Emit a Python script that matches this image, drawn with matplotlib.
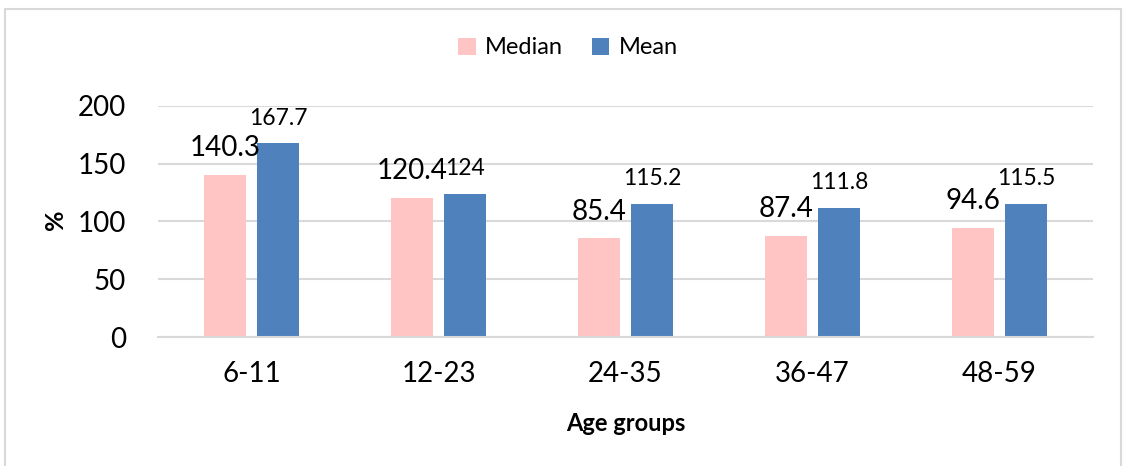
import matplotlib
matplotlib.use("Agg")
import matplotlib.pyplot as plt
from matplotlib.patches import Rectangle
import numpy as np

plt.rcParams['font.family'] = ['Lato', 'DejaVu Sans']

age_groups = ["6-11", "12-23", "24-35", "36-47", "48-59"]
median_vals = [140.3, 120.4, 85.4, 87.4, 94.6]
mean_vals = [167.7, 124, 115.2, 111.8, 115.5]
y_ticks = [0, 50, 100, 150, 200]

median_color = "#FFC5C5"
mean_color = "#4F81BD"
grid_color = "#D9D9D9"

W, H = 1124, 466
fig = plt.figure(figsize=(W / 100, H / 100), dpi=100)

# outer chart border (open at the bottom edge)
fig.patches.append(Rectangle((5 / W, -0.05), 1116 / W, (H - 9) / H + 0.05,
                             transform=fig.transFigure, fill=False,
                             edgecolor="#D9D9D9", linewidth=1.5))

ax = fig.add_axes([158 / W, (H - 337) / H, (1093 - 158) / W, (337 - 106) / H])

x = np.arange(len(age_groups))
bw = 0.225
off = 0.142
b1 = ax.bar(x - off, median_vals, bw, color=median_color, label="Median", zorder=2)
b2 = ax.bar(x + off, mean_vals, bw, color=mean_color, label="Mean", zorder=2)

for rect, v in zip(b1, median_vals):
    ax.annotate(f"{v:g}", (rect.get_x() + rect.get_width() / 2, v),
                xytext=(0, 13.5), textcoords="offset points",
                ha="center", va="baseline", fontsize=20, color="black")
for rect, v in zip(b2, mean_vals):
    ax.annotate(f"{v:g}", (rect.get_x() + rect.get_width() / 2, v),
                xytext=(0, 13.5), textcoords="offset points",
                ha="center", va="baseline", fontsize=16.5, color="black")

ax.set_xlim(-0.5, len(age_groups) - 0.5)
ax.set_ylim(0, 200)
ax.set_yticks(y_ticks)
ax.set_yticklabels([str(t) for t in y_ticks], fontsize=20)
ax.set_xticks(x)
ax.set_xticklabels(age_groups, fontsize=20)
ax.tick_params(axis="both", length=0)
ax.tick_params(axis="y", pad=23)
ax.tick_params(axis="x", pad=17)

ax.grid(axis="y", color=grid_color, linewidth=1.5, zorder=0)
ax.set_axisbelow(True)
for s in ["top", "right", "left"]:
    ax.spines[s].set_visible(False)
ax.spines["bottom"].set_color(grid_color)
ax.spines["bottom"].set_linewidth(1.5)

ax.set_xlabel("Age groups", fontsize=17, fontweight="bold", labelpad=18)
fig.text(55 / W, 1 - 220 / H, "%", rotation=90, fontsize=18,
         fontweight="bold", ha="center", va="center")

fig.legend(handles=[b1, b2], labels=["Median", "Mean"], loc="center",
           bbox_to_anchor=(568 / W, 1 - 48 / H), ncol=2, frameon=False,
           fontsize=17, handlelength=0.75, handleheight=0.75,
           handletextpad=0.4, columnspacing=1.2)

fig.savefig("out.png", dpi=100, facecolor="white")
